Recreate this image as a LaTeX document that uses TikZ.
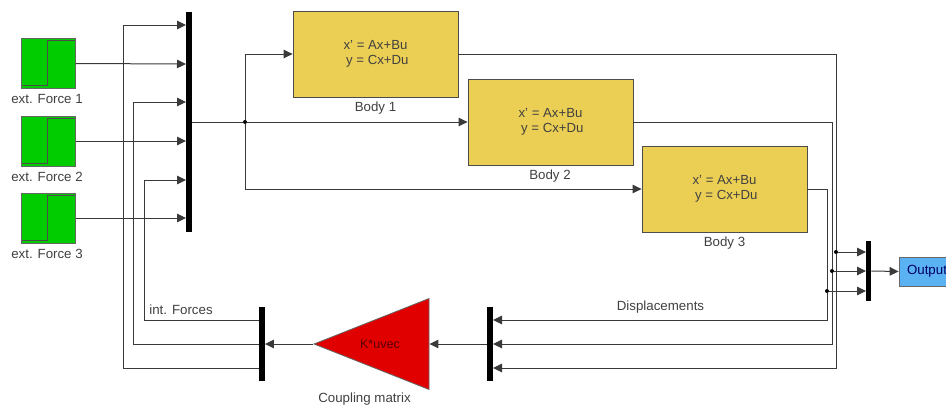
\documentclass[tikz,border=0pt]{standalone}
\usepackage{fontspec}
\setmainfont{Liberation Sans}
\usepackage{xcolor}
\usetikzlibrary{arrows.meta,shapes.geometric}

\definecolor{wirecol}{HTML}{3A3A3A}
\definecolor{txtcol}{HTML}{404040}
\definecolor{sourcegreen}{HTML}{00CC00}
\definecolor{bodyyellow}{HTML}{EBCF55}
\definecolor{gainred}{HTML}{E00000}
\definecolor{outblue}{HTML}{5AB2F2}

\begin{document}
\begin{tikzpicture}[
    x=1pt,
    y=-1pt,
    source/.style={
        draw=black!60,
        fill=sourcegreen,
        line width=1pt,
        minimum width=54pt,
        minimum height=50pt,
        inner sep=0pt,
        path picture={
            \draw[black!70,line width=1pt]
                ([yshift=3pt]path picture bounding box.south west) -- ++(26.5,0) -- ++(0,-45) -- ++(28,0);
        }
    },
    body/.style={
        draw=black!70,
        fill=bodyyellow,
        line width=0.8pt,
        minimum width=165pt,
        minimum height=86pt,
        inner sep=0pt,
        align=center,
        font=\fontsize{13.2}{15}\selectfont,
        text=txtcol,
        execute at begin node=\rule{0pt}{11.5pt}
    },
    bar/.style={
        fill=black,
        minimum width=5.5pt,
        inner sep=0pt
    },
    caption/.style={
        font=\fontsize{13.3}{15}\selectfont,
        text=txtcol,
        inner sep=0pt
    },
    wire/.style={
        draw=wirecol,
        line width=1pt
    },
    flow/.style={
        wire,
        -{Triangle[length=9pt,width=8.5pt]}
    },
    junction/.style={
        circle,
        fill=black,
        minimum size=4pt,
        inner sep=0pt
    }
]
    \useasboundingbox (0,0) rectangle (946,407);

    % External force sources
    \node[source] (force1) at (48,63.5) {};
    \node[source] (force2) at (48,141) {};
    \node[source] (force3) at (48,218) {};
    \node[caption] (force1label) at (47,99) {ext. Force 1};
    \node[caption] (force2label) at (47,176.5) {ext. Force 2};
    \node[caption] (force3label) at (47,254) {ext. Force 3};

    % Input mux and its ports
    \node[bar,minimum height=220pt] (inmux) at (189,122) {};
    \coordinate (inport1) at (186,25);
    \coordinate (inport2) at (186,64);
    \coordinate (inport3) at (186,102);
    \coordinate (inport4) at (186,141);
    \coordinate (inport5) at (186,180);
    \coordinate (inport6) at (186,218);

    % Bodies
    \node[body] (body1) at (375.5,54) {x' = Ax+Bu\\\ y = Cx+Du};
    \node[body] (body2) at (550.5,122) {x' = Ax+Bu\\\ y = Cx+Du};
    \node[body] (body3) at (724.5,189) {x' = Ax+Bu\\\ y = Cx+Du};
    \node[caption] (body1label) at (375.5,108.5) {Body 1};
    \node[caption] (body2label) at (550,176.5) {Body 2};
    \node[caption] (body3label) at (724.5,243.5) {Body 3};
    \node[junction] (split) at (245,122) {};

    % Output mux
    \node[junction] (tap1) at (836,252) {};
    \node[junction] (tap2) at (832,271) {};
    \node[junction] (tap3) at (827,291) {};
    \node[bar,minimum height=60pt] (outmux) at (868.5,271) {};
    \coordinate (outport1) at (866,252);
    \coordinate (outport2) at (866,271);
    \coordinate (outport3) at (866,291);
    \node[draw=black!60,fill=outblue,line width=0.8pt,minimum width=56pt,minimum height=29pt,inner sep=0pt,
        font=\fontsize{13.3}{15}\selectfont,text=black!60!blue] (output) at (927,271.5) {Output};

    % Feedback layer
    \node[bar,minimum height=74pt] (dispmux) at (490,344) {};
    \coordinate (dispport1) at (493,320);
    \coordinate (dispport2) at (493,344);
    \coordinate (dispport3) at (493,368);
    \node[draw=black!60,fill=gainred,line width=0.8pt,isosceles triangle,isosceles triangle stretches,
        shape border rotate=180,minimum width=91pt,minimum height=115pt,inner sep=0pt,anchor=apex] (gain) at (313,344) {};
    \node[font=\fontsize{12.6}{14}\selectfont,text=black!60!gainred,inner sep=0pt] (gainlabel) at (380,344) {K*uvec};
    \node[bar,minimum height=74pt] (intmux) at (262,344) {};
    \coordinate (intport1) at (259,320);
    \coordinate (intport2) at (259,368);
    \coordinate (rise1) at (144,180);
    \coordinate (rise2) at (133,102);
    \coordinate (rise3) at (123,25);
    \node[caption] (intlabel) at (181,310) {int. Forces};
    \node[caption] (displabel) at (660.5,307.5) {Displacements};
    \node[caption] (gaincaption) at (364.5,399.5) {Coupling matrix};

    % Sources into the mux
    \draw[flow] (force1.east) -- (inport2);
    \draw[flow] (force2.east) -- (inport4);
    \draw[flow] (force3.east) -- (inport6);

    % Mux into the bodies
    \draw[wire] (inmux.east) -- (split);
    \draw[flow] (split) -- (body2.west);
    \draw[flow] (split) |- (body1.west);
    \draw[flow] (split) |- (body3.west);

    % Displacements back to the gain and on to the output
    \draw[flow] (body1.east) -| (tap1) |- (dispport3);
    \draw[flow] (body2.east) -| (tap2) |- (dispport2);
    \draw[flow] (body3.east) -| (tap3) |- (dispport1);
    \draw[flow] (tap1) -- (outport1);
    \draw[flow] (tap2) -- (outport2);
    \draw[flow] (tap3) -- (outport3);
    \draw[flow] (outmux.east) -- (output.west);

    % Coupling path
    \draw[flow] (dispmux.west) -- (gain.lower side);
    \draw[flow] (gain.apex) -- (intmux.east);

    % Internal forces back to the mux
    \draw[flow] (intport1) -| (rise1) -- (inport5);
    \draw[flow] (intmux.west) -| (rise2) -- (inport3);
    \draw[flow] (intport2) -| (rise3) -- (inport1);

\end{tikzpicture}
\end{document}
